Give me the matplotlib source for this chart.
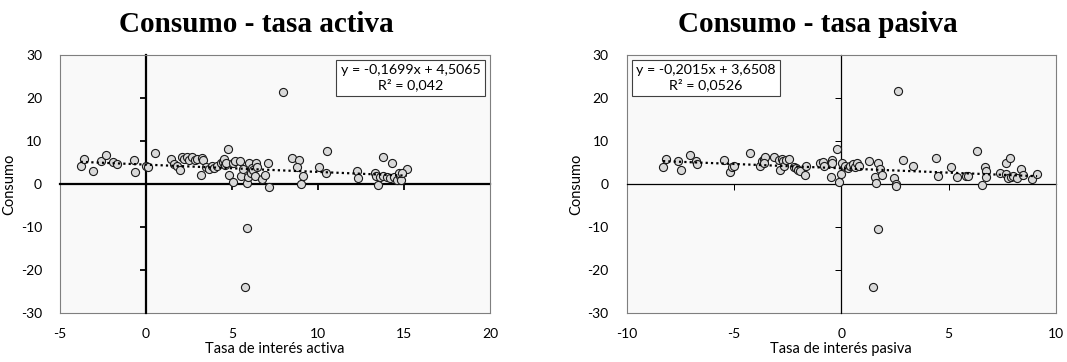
import matplotlib.pyplot as plt
from matplotlib.ticker import FixedLocator

# Consumo vs tasa de interés activa
activa_x = [-3.8, -3.6, -3.06, -2.6, -2.3, -1.9, -1.7, -0.7, -0.66, 0.0, 0.12, 0.54,
            1.43, 1.63, 1.82, 2.0, 2.09, 2.2, 2.37, 2.48, 2.7, 2.83, 2.98, 3.26, 3.33,
            3.2, 3.5, 3.68, 3.84, 3.95, 4.1, 4.34, 4.46, 4.57, 4.53, 4.65, 4.77, 4.85,
            5.08, 5.08, 5.2, 5.47, 5.5, 5.62, 5.9, 5.93, 5.97, 6.08, 6.16, 6.24, 6.4,
            6.43, 6.32, 6.74, 6.9, 7.1, 7.17, 7.98, 5.89, 5.77, 8.49, 8.88, 8.8, 9.15,
            9.0, 10.04, 10.47, 10.54, 12.29, 12.33, 13.3, 13.49, 13.76, 13.4, 13.6,
            13.8, 14.0, 14.2, 14.4, 14.6, 14.75, 14.85, 14.3, 14.69, 15.16, 14.9]
activa_y = [4.2, 5.9, 3.1, 5.3, 6.7, 5.2, 4.6, 5.5, 2.8, 4.2, 4.0, 7.1,
            5.7, 4.65, 4.2, 3.3, 6.2, 5.7, 6.35, 5.6, 6.2, 5.6, 5.9, 6.05, 5.6,
            2.2, 4.0, 3.4, 4.2, 3.7, 4.3, 4.8, 5.1, 4.5, 5.9, 4.8, 8.2, 2.2,
            0.5, 4.96, 5.4, 5.3, 1.86, 3.4, 0.3, 1.7, 5.0, 2.6, 3.7, 3.25, 4.8,
            4.0, 1.86, 1.2, 2.2, 4.8, -0.6, 21.5, -10.3, -24.0, 6.05, 5.6, 3.9, 1.86,
            0.0, 4.0, 2.6, 7.6, 3.0, 1.4, 2.6, -0.15, 6.2, 1.86, 1.6,
            1.9, 1.6, 1.3, 1.6, 1.0, 1.9, 1.0, 4.8, 2.5, 3.4, 2.6]

# Consumo vs tasa de interés pasiva
pasiva_x = [-8.31, -8.16, -7.6, -7.47, -7.04, -6.76, -6.73, -5.49, -5.2, -5.08, -4.99,
            -4.27, -3.78, -3.72, -3.62, -3.56, -3.59, -3.16, -2.9, -2.84, -2.78, -2.72,
            -2.66, -2.6, -2.44, -2.22, -2.13, -2.0, -1.91, -1.69, -1.63, -1.01, -0.85,
            -0.79, -0.45, -0.42, -0.2, -0.48, -0.11, -0.01, 0.05, 0.17, 0.3, 0.42, 0.54,
            0.64, 0.73, 0.82, 1.29, 1.72, 1.79, 1.57, 1.6, 1.91, 2.47, 2.56, 2.56, 2.88,
            2.66, 3.34, 4.4, 4.52, 5.11, 5.39, 5.83, 5.9, 6.33, 6.57, 6.7, 6.73, 6.76,
            7.41, 7.69, 7.88, 7.66, 7.75, 7.9, 8.0, 8.16, 8.38, 8.44, 8.9, 9.12, 1.72, 1.48]
pasiva_y = [4.0, 5.9, 5.35, 3.25, 6.7, 5.4, 4.65, 5.6, 2.8, 4.0, 4.3,
            7.1, 4.3, 5.3, 5.9, 6.2, 4.8, 6.2, 5.6, 3.25, 5.9, 5.4,
            4.3, 5.6, 5.9, 4.0, 3.65, 3.25, 3.1, 2.1, 4.3, 4.8, 5.1,
            4.2, 5.6, 4.8, 8.2, 1.7, 0.47, 2.3, 4.96, 4.2, 3.7, 4.3, 4.65,
            3.9, 4.8, 4.3, 5.4, 4.96, 3.57, 1.55, 0.15, 2.0, 1.3, 0.0, -0.47, 5.6,
            21.6, 4.2, 5.97, 1.94, 4.0, 1.7, 1.86, 1.86, 7.6, -0.23, 3.9, 2.95, 1.7,
            2.6, 4.8, 6.05, 2.3, 1.3, 1.7, 1.86, 1.4, 3.4, 2.0, 1.1, 2.3, -10.4, -24.0]

# linear trend coefficients (slope, intercept) and R²
activa_fit = (-0.1699, 4.5065, "0,042")
pasiva_fit = (-0.2015, 3.6508, "0,0526")

y_ticks = [-30, -20, -10, 0, 10, 20, 30]

fig = plt.figure(figsize=(10.67, 3.62), dpi=100)
label_font = "Lato"
title_font = "Liberation Serif"


def fmt(v):
    return f"{v:.4f}".replace(".", ",")


def panel(rect, xs, ys, fit, xlim, inner_xticks, outer_xticks, xlabel, title, title_x,
          axis_lw, box_x, box_ha):
    ax = fig.add_axes(rect)
    ax.set_facecolor("#f9f9f9")
    ax.set_xlim(*xlim)
    ax.set_ylim(-30, 30)

    # axis lines crossing at the origin
    for side in ("left", "bottom"):
        ax.spines[side].set_position(("data", 0))
        ax.spines[side].set_color("black")
        ax.spines[side].set_linewidth(axis_lw)
        ax.spines[side].set_zorder(1)
    for side in ("top", "right"):
        ax.spines[side].set_color("#7f7f7f")
    ax.xaxis.set_major_locator(FixedLocator(inner_xticks))
    ax.yaxis.set_major_locator(FixedLocator(y_ticks[1:-1]))
    ax.tick_params(direction="out", length=4, width=axis_lw * 0.8,
                   labelleft=False, labelbottom=False)

    # tick labels along the outer frame
    sx = ax.secondary_xaxis("bottom")
    sx.set_xticks(outer_xticks)
    sx.set_xticklabels([str(t) for t in outer_xticks])
    sx.tick_params(length=0, pad=11, labelsize=10)
    sx.spines["bottom"].set_color("#7f7f7f")
    sx.set_xlabel(xlabel, fontsize=10.5, labelpad=1, family=label_font)
    for lab in sx.get_xticklabels():
        lab.set_family(label_font)
    sy = ax.secondary_yaxis("left")
    sy.set_yticks(y_ticks)
    sy.set_yticklabels([str(t) for t in y_ticks])
    sy.tick_params(length=0, pad=13, labelsize=10)
    sy.spines["left"].set_color("#7f7f7f")
    sy.set_ylabel("Consumo", fontsize=10.5, labelpad=3, family=label_font)
    for lab in sy.get_yticklabels():
        lab.set_family(label_font)

    ax.scatter(xs, ys, s=34, facecolor="#d9d9d9", edgecolor="#1a1a1a",
               linewidth=0.8, zorder=3)

    slope, icpt, r2 = fit
    x0, x1 = min(xs), max(xs)
    ax.plot([x0, x1], [slope * x0 + icpt, slope * x1 + icpt], ls=(0, (1, 1.4)),
            color="black", lw=1.6, zorder=4)

    eq = f"y = {fmt(slope)}x + {fmt(icpt)}\nR² = {r2}"
    ax.text(box_x, 0.965, eq, transform=ax.transAxes, ha=box_ha,
            va="top", fontsize=10.3, family=label_font, multialignment="center",
            linespacing=1.25, zorder=5,
            bbox=dict(boxstyle="square,pad=0.3", facecolor="white",
                      edgecolor="#404040", linewidth=0.8))

    fig.text(title_x, 1 - 32 / 362, title, ha="center", va="baseline",
             fontsize=21, fontweight="bold", family=title_font)
    return ax


panel([60 / 1067, 1 - 313 / 362, 430 / 1067, 258 / 362], activa_x, activa_y, activa_fit,
      (-5, 20), [0, 5, 10, 15], [-5, 0, 5, 10, 15, 20], "Tasa de interés activa",
      "Consumo - tasa activa", 256 / 1067, 1.6, 0.978, "right")
panel([626.7 / 1067, 1 - 313 / 362, 429.3 / 1067, 258 / 362], pasiva_x, pasiva_y, pasiva_fit,
      (-10, 10), [-5, 0, 5], [-10, -5, 0, 5, 10], "Tasa de interés pasiva",
      "Consumo - tasa pasiva", 818 / 1067, 0.9, 0.022, "left")

# heading line above, only its lower edge falls inside the figure
fig.text(543 / 1067, 1 + 5 / 362, "(en porcentaje, %)", ha="center", va="baseline",
         fontsize=19, family=title_font)

fig.savefig("out.png", dpi=100)
